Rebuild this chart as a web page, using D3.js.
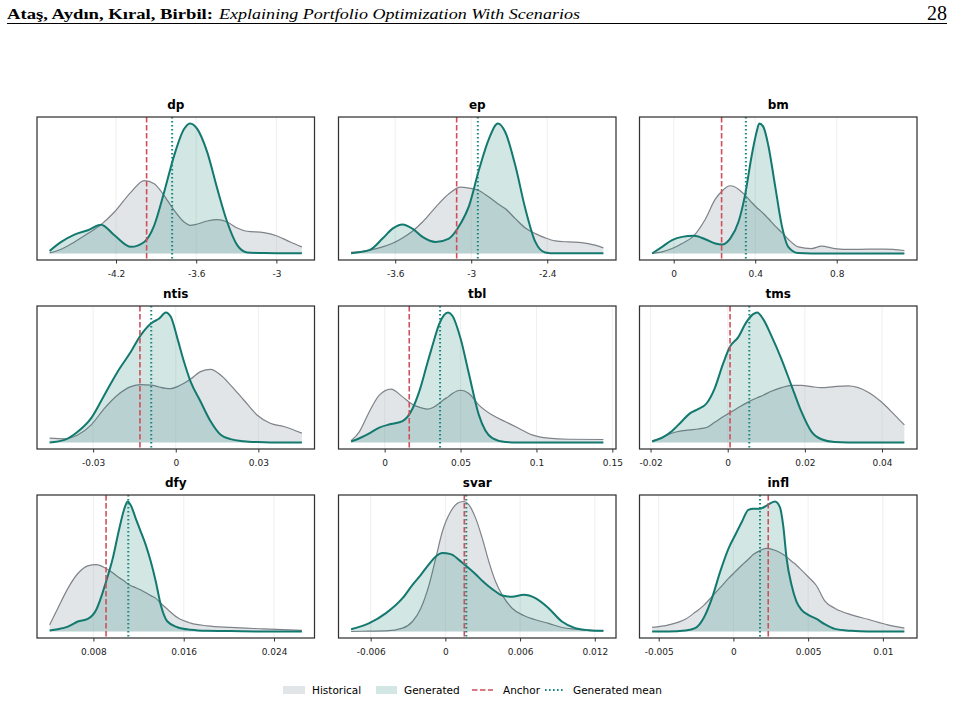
<!DOCTYPE html>
<html>
<head>
<meta charset="utf-8">
<script src="https://cdn.jsdelivr.net/npm/d3@7"></script>
<style>
  body { margin: 0; background: #fff; }
  svg { display: block; font-family: "DejaVu Sans", sans-serif; }
</style>
</head>
<body>
<svg width="954" height="701"></svg>
<script>
// density curves (heights are relative, peak of each panel = 100)
const dpX    = [-4.697, -4.610, -4.511, -4.411, -4.312, -4.212, -4.088, -3.989, -3.914, -3.840, -3.765, -3.691, -3.646, -3.591, -3.517, -3.442, -3.368, -3.293, -3.219, -3.094, -2.995, -2.896, -2.809];
const dpHist = [0.5, 3.3, 8.9, 15.3, 22.2, 31.9, 47.2, 56.1, 53.6, 44.6, 33.2, 24.2, 21.7, 22.7, 25.0, 26.0, 24.2, 19.6, 17.1, 16.1, 13.5, 8.9, 5.1];
const dpGen  = [2.0, 8.9, 14.5, 17.9, 22.2, 14.0, 5.1, 8.9, 21.7, 47.2, 75.3, 95.7, 100, 95.7, 77.8, 49.7, 24.2, 6.4, 0.8, 0.3, 0.2, 0.2, 0.2];

const epX    = [-3.948, -3.804, -3.700, -3.621, -3.542, -3.464, -3.385, -3.280, -3.176, -3.084, -3.018, -2.940, -2.861, -2.790, -2.730, -2.652, -2.573, -2.494, -2.416, -2.337, -2.232, -2.128, -2.023, -1.957];
const epHist = [0.8, 2.6, 5.1, 7.9, 12.0, 17.1, 24.2, 35.7, 45.9, 51.0, 50.3, 48.5, 43.4, 38.3, 34.4, 26.8, 19.6, 15.3, 12.0, 9.7, 8.9, 8.4, 6.4, 4.3];
const epGen  = [0.2, 2.6, 11.5, 19.1, 22.4, 19.1, 12.8, 8.9, 11.5, 23.0, 36.5, 64.0, 88.0, 100, 93.1, 67.6, 34.4, 8.9, 0.8, 0.1, 0.1, 0.1, 0.1, 0.1];

const bmX    = [-0.106, -0.057, -0.008, 0.041, 0.098, 0.155, 0.204, 0.236, 0.277, 0.318, 0.350, 0.383, 0.407, 0.420, 0.440, 0.464, 0.497, 0.530, 0.562, 0.611, 0.676, 0.725, 0.790, 0.872, 0.953, 1.035, 1.132];
const bmHist = [0, 1.3, 3.8, 7.7, 13.6, 26.4, 41.8, 47.9, 52.1, 49.5, 44.9, 39.2, 35.4, 33.6, 30.8, 26.9, 21.3, 16.2, 11.0, 5.1, 3.8, 5.6, 3.8, 3.1, 3.3, 3.3, 2.3];
const bmGen  = [0, 5.1, 10.3, 12.8, 13.6, 11.0, 7.7, 6.9, 11.5, 24.4, 44.9, 75.6, 93.6, 100, 97.4, 83.3, 52.6, 21.8, 5.1, 0.3, 0, 0, 0, 0, 0, 0, 0];

const ntisX    = [-0.0458, -0.0404, -0.0355, -0.0307, -0.0259, -0.0211, -0.0163, -0.0127, -0.0090, -0.0060, -0.0036, -0.0018, 0.0006, 0.0030, 0.0054, 0.0090, 0.0127, 0.0163, 0.0199, 0.0247, 0.0295, 0.0343, 0.0392, 0.0458];
const ntisHist = [3.3, 2.8, 5.9, 13.6, 26.3, 36.6, 43.0, 44.5, 44.2, 42.7, 41.7, 41.4, 43.0, 45.5, 48.8, 54.5, 56.3, 51.9, 44.2, 32.7, 21.2, 14.8, 12.3, 7.2];
const ntisGen  = [0, 2.0, 8.4, 18.7, 36.6, 54.5, 69.8, 82.6, 91.6, 95.4, 100, 96.7, 80.1, 62.1, 46.8, 31.5, 16.1, 5.9, 2.6, 1.0, 0.3, 0, 0, 0];

const tblX    = [-0.0221, -0.0166, -0.0101, -0.0035, 0.0042, 0.0118, 0.0184, 0.0227, 0.0282, 0.0315, 0.0359, 0.0391, 0.0418, 0.0446, 0.0501, 0.0555, 0.0621, 0.0709, 0.0796, 0.0883, 0.0971, 0.1080, 0.1211, 0.1441];
const tblHist = [1.3, 8.4, 23.7, 36.4, 41.0, 35.1, 29.3, 27.2, 25.7, 26.7, 30.0, 33.1, 35.1, 37.7, 40.2, 37.7, 28.8, 21.1, 16.0, 10.9, 5.9, 3.3, 2.5, 2.3];
const tblGen  = [0.8, 3.3, 7.1, 11.5, 14.2, 16.5, 26.2, 38.9, 61.3, 74.6, 91.1, 98.0, 100, 97.5, 79.6, 52.9, 21.1, 3.3, 0.3, 0, 0, 0, 0, 0];

const tmsX    = [-0.0196, -0.0172, -0.0146, -0.0120, -0.0098, -0.0077, -0.0055, -0.0034, -0.0012, 0.0005, 0.0027, 0.0048, 0.0066, 0.0076, 0.0092, 0.0113, 0.0139, 0.0165, 0.0191, 0.0217, 0.0243, 0.0277, 0.0312, 0.0363, 0.0398, 0.0433, 0.0458];
const tmsHist = [1.3, 3.8, 7.1, 8.9, 9.7, 10.4, 11.5, 15.5, 19.8, 22.9, 26.7, 30.3, 33.1, 34.4, 36.4, 39.4, 42.2, 44.0, 44.0, 43.0, 42.2, 43.0, 43.5, 38.9, 31.3, 21.1, 13.5];
const tmsGen  = [0.8, 3.3, 8.4, 16.0, 22.4, 25.7, 30.0, 41.5, 60.6, 73.3, 80.9, 92.4, 98.7, 100, 94.9, 82.2, 64.4, 44.0, 23.7, 8.4, 2.5, 0.3, 0, 0, 0, 0, 0];

const dfyX    = [0.00412, 0.00485, 0.00574, 0.00662, 0.00750, 0.00824, 0.00912, 0.00971, 0.01029, 0.01074, 0.01103, 0.01132, 0.01176, 0.01221, 0.01265, 0.01309, 0.01353, 0.01397, 0.01456, 0.01544, 0.01662, 0.01809, 0.02015, 0.02309, 0.02647];
const dfyHist = [5.1, 17.9, 33.2, 44.6, 50.5, 51.5, 48.5, 45.2, 41.3, 38.8, 36.7, 35.2, 33.7, 31.9, 29.8, 27.6, 25.5, 21.7, 17.1, 10.7, 6.4, 4.3, 3.1, 2.0, 0.8];
const dfyGen  = [0.8, 1.8, 3.8, 7.7, 9.7, 16.6, 38.3, 56.1, 79.1, 94.4, 100, 96.9, 86.7, 76.5, 66.3, 53.6, 38.3, 20.4, 7.7, 3.3, 1.3, 0.5, 0.3, 0, 0];

const svarX    = [-0.00757, -0.00611, -0.00477, -0.00344, -0.00264, -0.00197, -0.00131, -0.00077, -0.00024, 0.00043, 0.00109, 0.00149, 0.00189, 0.00243, 0.00296, 0.00349, 0.00403, 0.00456, 0.00536, 0.00629, 0.00723, 0.00829, 0.00936, 0.01043, 0.01149, 0.01269];
const svarHist = [0, 0.3, 0.5, 2.6, 7.7, 17.9, 35.9, 56.4, 76.9, 92.3, 99.2, 100, 97.4, 87.2, 71.8, 53.8, 38.5, 28.2, 17.9, 12.3, 9.0, 6.2, 3.1, 1.8, 1.0, 0.5];
const svarGen  = [1.8, 6.4, 14.1, 25.6, 35.9, 43.6, 51.8, 57.7, 60.3, 59.5, 55.1, 51.8, 48.7, 44.1, 39.0, 34.6, 30.8, 27.7, 26.7, 28.2, 25.6, 17.9, 7.7, 2.6, 1.0, 0.5];

const inflX    = [-0.00544, -0.00433, -0.00322, -0.00256, -0.00200, -0.00144, -0.00089, -0.00033, 0.00011, 0.00056, 0.00100, 0.00133, 0.00178, 0.00222, 0.00278, 0.00311, 0.00333, 0.00356, 0.00389, 0.00422, 0.00456, 0.00500, 0.00556, 0.00611, 0.00678, 0.00789, 0.00900, 0.01033, 0.01144];
const inflHist = [3.1, 5.1, 9.4, 14.8, 19.9, 26.8, 33.7, 40.8, 45.9, 51.0, 55.6, 59.2, 62.2, 64.0, 62.5, 60.7, 59.2, 57.4, 54.1, 51.0, 47.2, 42.1, 35.2, 23.5, 17.9, 12.8, 9.4, 5.1, 2.6];
const inflGen  = [0, 0, 0.8, 2.6, 10.2, 25.5, 45.9, 63.8, 74.0, 84.2, 93.6, 94.4, 94.4, 96.9, 100, 95.7, 81.6, 56.1, 35.7, 23.0, 16.6, 12.8, 9.7, 5.6, 2.0, 0.5, 0, 0, 0];

const panelNames = ["dp", "ep", "bm", "ntis", "tbl", "tms", "dfy", "svar", "infl"];
const anchorValues = [-3.971, -3.115, 0.235, -0.0130, 0.0162, 0.0006, 0.00912, 0.00152, 0.00233];
const meanValues   = [-3.780, -2.948, 0.354, -0.0089, 0.0365, 0.0056, 0.01109, 0.00168, 0.00178];
const tickValues = [
  [-4.2, -3.6, -3],
  [-3.6, -3, -2.4],
  [0, 0.4, 0.8],
  [-0.03, 0, 0.03],
  [0, 0.05, 0.1, 0.15],
  [-0.02, 0, 0.02, 0.04],
  [0.008, 0.016, 0.024],
  [-0.006, 0, 0.006, 0.012],
  [-0.005, 0, 0.005, 0.01]
];
const legendLabels = ["Historical", "Generated", "Anchor", "Generated mean"];

const xs = [dpX, epX, bmX, ntisX, tblX, tmsX, dfyX, svarX, inflX];
const hists = [dpHist, epHist, bmHist, ntisHist, tblHist, tmsHist, dfyHist, svarHist, inflHist];
const gens = [dpGen, epGen, bmGen, ntisGen, tblGen, tmsGen, dfyGen, svarGen, inflGen];

const histFill = "#adb5bd", histStroke = "#7e8389";
const genFill = "#0f7b72", genStroke = "#13796f";
const anchorColor = "#cf4f5b", meanColor = "#17877d";

const colLeft = [37, 338.5, 639.5];
const rowTop = [117, 306, 495];
const pw = 277.5, ph = 143;

const svg = d3.select("svg");

// page header
const serif = "'Liberation Serif', 'DejaVu Serif', serif";
svg.append("text")
  .attr("x", 7)
  .attr("y", 19)
  .attr("textLength", 206)
  .attr("lengthAdjust", "spacingAndGlyphs")
  .style("font-family", serif)
  .style("font-size", "15px")
  .style("font-weight", "bold")
  .text("Ataş, Aydın, Kıral, Birbil:");
svg.append("text")
  .attr("x", 219)
  .attr("y", 19)
  .attr("textLength", 361)
  .attr("lengthAdjust", "spacingAndGlyphs")
  .style("font-family", serif)
  .style("font-size", "15px")
  .style("font-style", "italic")
  .text("Explaining Portfolio Optimization With Scenarios");

svg.append("text")
  .attr("x", 947)
  .attr("y", 20)
  .attr("text-anchor", "end")
  .style("font-family", serif)
  .style("font-size", "20px")
  .text("28");

svg.append("line")
  .attr("x1", 7).attr("x2", 947)
  .attr("y1", 23.5).attr("y2", 23.5)
  .attr("stroke", "#000")
  .attr("stroke-width", 1);

panelNames.forEach((name, i) => {
  const col = i % 3, row = Math.floor(i / 3);
  const g = svg.append("g")
    .attr("transform", `translate(${colLeft[col]},${rowTop[row]})`);

  const xv = xs[i];
  const pts = xv.map((v, j) => ({ x: v, h: hists[i][j], g: gens[i][j] }));

  const xmin = d3.min(xv), xmax = d3.max(xv), span = xmax - xmin;
  const x = d3.scaleLinear()
    .domain([xmin - 0.05 * span, xmax + 0.05 * span])
    .range([0, pw]);

  const ymax = d3.max(pts, d => Math.max(d.h, d.g));
  const y = d3.scaleLinear()
    .domain([-0.05 * ymax, 1.05 * ymax])
    .range([ph, 0]);

  // vertical grid
  g.selectAll(".grid")
    .data(tickValues[i])
    .enter().append("line")
    .attr("class", "grid")
    .attr("x1", d => x(d)).attr("x2", d => x(d))
    .attr("y1", 0).attr("y2", ph)
    .attr("stroke", "#ebebeb")
    .attr("stroke-width", 0.8);

  const areaHist = d3.area().curve(d3.curveMonotoneX)
    .x(d => x(d.x)).y0(y(0)).y1(d => y(d.h));
  const lineHist = d3.line().curve(d3.curveMonotoneX)
    .x(d => x(d.x)).y(d => y(d.h));
  const areaGen = d3.area().curve(d3.curveMonotoneX)
    .x(d => x(d.x)).y0(y(0)).y1(d => y(d.g));
  const lineGen = d3.line().curve(d3.curveMonotoneX)
    .x(d => x(d.x)).y(d => y(d.g));

  g.append("path").datum(pts)
    .attr("d", areaHist)
    .attr("fill", histFill)
    .attr("fill-opacity", 0.35);
  g.append("path").datum(pts)
    .attr("d", lineHist)
    .attr("fill", "none")
    .attr("stroke", histStroke)
    .attr("stroke-width", 1.2);

  g.append("path").datum(pts)
    .attr("d", areaGen)
    .attr("fill", genFill)
    .attr("fill-opacity", 0.19);
  g.append("path").datum(pts)
    .attr("d", lineGen)
    .attr("fill", "none")
    .attr("stroke", genStroke)
    .attr("stroke-width", 2);

  g.append("line")
    .attr("x1", x(anchorValues[i])).attr("x2", x(anchorValues[i]))
    .attr("y1", 0).attr("y2", ph)
    .attr("stroke", anchorColor)
    .attr("stroke-width", 1.6)
    .attr("stroke-dasharray", "5.5,2.5");

  g.append("line")
    .attr("x1", x(meanValues[i])).attr("x2", x(meanValues[i]))
    .attr("y1", 0).attr("y2", ph)
    .attr("stroke", meanColor)
    .attr("stroke-width", 2)
    .attr("stroke-dasharray", "1.6,2.4");

  // frame
  g.append("rect")
    .attr("width", pw).attr("height", ph)
    .attr("fill", "none")
    .attr("stroke", "#333")
    .attr("stroke-width", 1.25);

  const axis = g.append("g")
    .attr("transform", `translate(0,${ph})`)
    .call(d3.axisBottom(x).tickValues(tickValues[i]).tickSize(3.5).tickPadding(7).tickFormat(d => String(d)));
  axis.select(".domain").remove();
  axis.selectAll("line").attr("stroke", "#333");
  axis.selectAll("text")
    .style("font-family", "'DejaVu Sans', sans-serif")
    .style("font-size", "9px")
    .attr("fill", "#222");

  g.append("text")
    .attr("x", pw / 2)
    .attr("y", -8.5)
    .attr("text-anchor", "middle")
    .style("font-weight", "bold")
    .style("font-size", "12px")
    .text(name);
});

// legend
const leg = svg.append("g").style("font-size", "10.5px");
leg.append("rect").attr("x", 283).attr("y", 686).attr("width", 22).attr("height", 8)
  .attr("fill", histFill).attr("fill-opacity", 0.35);
leg.append("text").attr("x", 312).attr("y", 693.5).text(legendLabels[0]);
leg.append("rect").attr("x", 376).attr("y", 686).attr("width", 21).attr("height", 8)
  .attr("fill", genFill).attr("fill-opacity", 0.19);
leg.append("text").attr("x", 404).attr("y", 693.5).text(legendLabels[1]);
leg.append("line").attr("x1", 472).attr("x2", 493).attr("y1", 690).attr("y2", 690)
  .attr("stroke", anchorColor).attr("stroke-width", 1.6).attr("stroke-dasharray", "5.5,2.5");
leg.append("text").attr("x", 503).attr("y", 693.5).text(legendLabels[2]);
leg.append("line").attr("x1", 545).attr("x2", 564).attr("y1", 690).attr("y2", 690)
  .attr("stroke", meanColor).attr("stroke-width", 2).attr("stroke-dasharray", "1.6,2.4");
leg.append("text").attr("x", 573).attr("y", 693.5).text(legendLabels[3]);
</script>
</body>
</html>
